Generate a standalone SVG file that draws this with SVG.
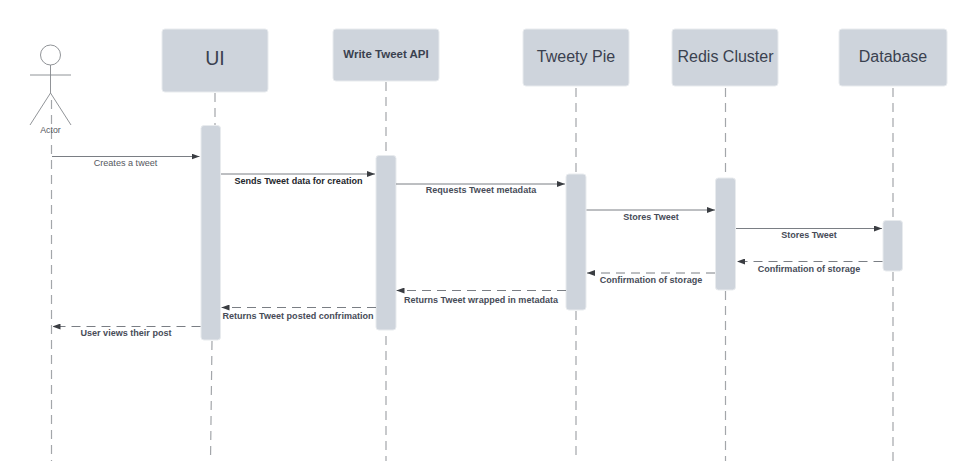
<svg xmlns="http://www.w3.org/2000/svg" width="959" height="461" viewBox="0 0 959 461">
<style>
text{font-family:"Liberation Sans",Arial,sans-serif;fill:#3a414f;text-anchor:middle}
.box{fill:#ced4dc;stroke:#e8ebee;stroke-width:1}
.act{fill:#ced4dc;stroke:#e8ebee;stroke-width:1}
.life{fill:none;stroke:#a3a6aa;stroke-width:1.2;stroke-dasharray:9 6}
.title{font-size:16px}
.msg{font-size:9.050px;font-weight:bold;fill:#474c58}
.solid{fill:none;stroke:#7a7e84;stroke-width:1;marker-end:url(#arrow)}
.dash{fill:none;stroke:#7a7e84;stroke-width:1;stroke-dasharray:9 6;marker-end:url(#arrow)}
.fig{fill:none;stroke:#85888c;stroke-width:.9}
</style>
<defs>
<marker id="arrow" markerUnits="userSpaceOnUse" markerWidth="8" markerHeight="6" refX="8" refY="3" orient="auto"><path d="M0 0L8 3L0 6Z" fill="#3a3d42"/></marker>
</defs>
<rect width="959" height="461" fill="#fff"/>
<g id="lifelines">
<path class="life" d="M51.5 100V461"/>
<path class="life" d="M215 93V126"/>
<path class="life" d="M212 341L210.500 461"/>
<path class="life" d="M386 82V156"/>
<path class="life" d="M386 336V461"/>
<path class="life" d="M576 88V174"/>
<path class="life" d="M576 311V461"/>
<path class="life" d="M725.500 88V178"/>
<path class="life" d="M725.500 291V461"/>
<path class="life" d="M893 88V220"/>
<path class="life" d="M893 272V461"/>
</g>
<g id="actor">
<circle class="fig" cx="50.500" cy="55" r="10"/>
<path class="fig" d="M50.500 65V93M30 75H71M50.500 93L30 125M50.500 93L71 125"/>
<text x="50.500" y="133" style="font-size:8.800px;fill:#55585e">Actor</text>
</g>
<g id="ui"><rect class="box" x="162" y="29" width="106" height="63" rx="3"/><text x="215" y="65" style="font-size:19.500px">UI</text></g>
<g id="write-tweet-api"><rect class="box" x="333" y="29" width="106" height="52" rx="3"/><text x="386" y="57.500" style="font-size:11.500px;font-weight:bold">Write Tweet API</text></g>
<g id="tweety-pie"><rect class="box" x="523" y="29" width="106" height="57" rx="3"/><text class="title" x="576" y="61.500">Tweety Pie</text></g>
<g id="redis-cluster"><rect class="box" x="672" y="29" width="106" height="57" rx="3"/><text class="title" x="725.500" y="61.500">Redis Cluster</text></g>
<g id="database"><rect class="box" x="839" y="29" width="108" height="57" rx="3"/><text class="title" x="893" y="61.500">Database</text></g>
<g id="activation-ui"><rect class="act" x="201" y="125.500" width="19.500" height="214.500" rx="3"/></g>
<g id="activation-api"><rect class="act" x="376" y="155.500" width="20" height="174.500" rx="3"/></g>
<g id="activation-pie"><rect class="act" x="566" y="174" width="20" height="136" rx="3"/></g>
<g id="activation-redis"><rect class="act" x="715.500" y="178" width="20" height="112" rx="3"/></g>
<g id="activation-db"><rect class="act" x="883" y="220.500" width="19.500" height="50.500" rx="3"/></g>
<g id="connectors">
<path class="solid" d="M52 156.500H199.500"/>
<path class="solid" d="M221 174H375"/>
<path class="solid" d="M396 184H565"/>
<path class="solid" d="M586.500 210H715"/>
<path class="solid" d="M736 228.500H882"/>
<path class="dash" d="M882.500 261.500H737"/>
<path class="dash" d="M715 273H587"/>
<path class="dash" d="M566 290.500H396.500"/>
<path class="dash" d="M376 307.500H221.500"/>
<path class="dash" d="M200.500 326.500H52.500"/>
</g>
<g id="labels">
<text x="125.500" y="166" style="font-size:9.100px;fill:#55585e">Creates a tweet</text>
<text class="msg" x="298.500" y="183.500" style="fill:#23262c">Sends Tweet data for creation</text>
<text class="msg" x="481" y="193">Requests Tweet metadata</text>
<text class="msg" x="651" y="219.500">Stores Tweet</text>
<text class="msg" x="809" y="238">Stores Tweet</text>
<text class="msg" x="809" y="271.500">Confirmation of storage</text>
<text class="msg" x="651" y="283">Confirmation of storage</text>
<text class="msg" x="481" y="302.500">Returns Tweet wrapped in metadata</text>
<text class="msg" x="298" y="319">Returns Tweet posted confrimation</text>
<text class="msg" x="126" y="336">User views their post</text>
</g>
</svg>
